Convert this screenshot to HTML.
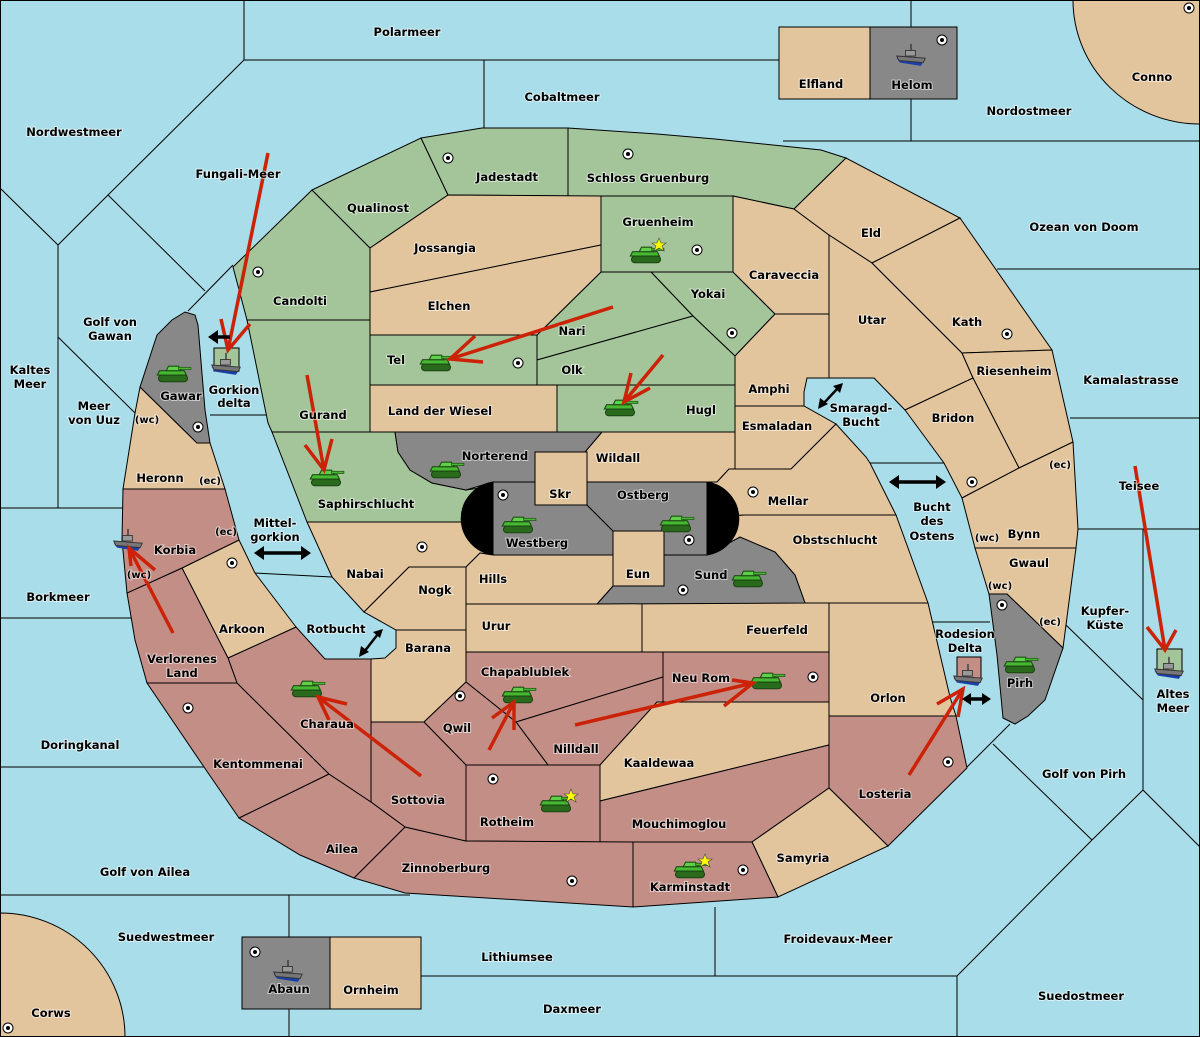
<!DOCTYPE html>
<html><head><meta charset="utf-8"><style>
html,body{margin:0;padding:0;background:#a9dde9}
svg{display:block}
text{font-family:"DejaVu Sans","Liberation Sans",sans-serif;font-weight:bold;font-size:11.5px;fill:#000;stroke:#fff;stroke-width:2;stroke-opacity:.55;paint-order:stroke;text-anchor:middle}
.s{font-size:10px}
.l polygon,.l path,.l rect{stroke:#000;stroke-width:1}
.t{fill:#e2c59d}.g{fill:#a3c599}.p{fill:#c38e86}.y{fill:#888}
.sea line,.sea polyline{stroke:#000;stroke-width:1;fill:none}
.ar{stroke:#cc2208;stroke-width:3.5;fill:none;stroke-linecap:butt}
</style></head><body>
<svg width="1200" height="1037" viewBox="0 0 1200 1037" xmlns="http://www.w3.org/2000/svg">
<defs>
<g id="tk0">
<rect x="-13" y="1" width="26" height="6" rx="3" fill="#2a6a1c" stroke="#163d0e" stroke-width=".8"/>
<path d="M-14,1 L12,1 L10,-3 L-12,-3 Z" fill="#46b832" stroke="#1d4d14" stroke-width="1"/>
<path d="M-6,-3 L-4,-7 L5,-7 L7,-3 Z" fill="#5fd048" stroke="#1d4d14" stroke-width="1"/>
<rect x="5" y="-6" width="11" height="2" fill="#46b832" stroke="#1d4d14" stroke-width=".6"/>
</g>
<g id="tk"><use href="#tk0" transform="scale(1.12)"/></g>
<g id="sh0">
<path d="M-13,2 L12,4 L9,9 L-10,6 Z" fill="#1b3fa8"/>
<path d="M-13,0 L13,2 L11,6 L-11,4 Z" fill="#777" stroke="#333" stroke-width=".8"/>
<rect x="-5" y="-5" width="9" height="5" fill="#999" stroke="#333" stroke-width=".8"/>
<line x1="0" y1="-11" x2="0" y2="-5" stroke="#333" stroke-width="1.2"/>
</g>
<g id="sh"><use href="#sh0" transform="scale(1.1)"/></g>
<g id="sc"><circle r="5" fill="#fff" stroke="#000" stroke-width="1"/><circle r="2" fill="#000"/></g>
<polygon id="st" points="0,-7 2,-2 7,-2 3,1 5,6 0,3 -5,6 -3,1 -7,-2 -2,-2" fill="#ff0" stroke="#444" stroke-width=".6"/>
</defs>
<rect x="0" y="0" width="1200" height="1037" fill="#a9dde9"/>
<g class="sea">
<line x1="244" y1="0" x2="244" y2="60"/><line x1="244" y1="60" x2="779" y2="60"/>
<line x1="484" y1="60" x2="484" y2="128"/>
<line x1="911" y1="0" x2="911" y2="27"/><line x1="911" y1="99" x2="911" y2="141"/>
<line x1="783" y1="141" x2="1200" y2="141"/>
<polyline points="244,60 108,195 205,291"/><polyline points="0,188 58,245 108,195"/>
<line x1="188" y1="311" x2="233" y2="265"/>
<line x1="58" y1="245" x2="58" y2="508"/><line x1="58" y1="337" x2="135" y2="413"/>
<line x1="0" y1="508" x2="123" y2="508"/><line x1="0" y1="618" x2="131" y2="618"/>
<line x1="0" y1="767" x2="204" y2="767"/><line x1="0" y1="895" x2="410" y2="895"/>
<line x1="289" y1="895" x2="289" y2="1037"/>
<line x1="421" y1="976" x2="957" y2="976"/><line x1="715" y1="907" x2="715" y2="976"/>
<line x1="957" y1="976" x2="957" y2="1037"/><line x1="957" y1="976" x2="1092" y2="840"/>
<line x1="993" y1="744" x2="1092" y2="840"/><line x1="967" y1="767" x2="1010" y2="724"/>
<line x1="1092" y1="840" x2="1143" y2="790"/><line x1="1143" y1="529" x2="1143" y2="790"/>
<line x1="1143" y1="790" x2="1200" y2="847"/><line x1="1066" y1="625" x2="1143" y2="700"/>
<line x1="1078" y1="529" x2="1200" y2="529"/><line x1="1070" y1="418" x2="1200" y2="418"/>
<line x1="997" y1="269" x2="1200" y2="269"/>
<line x1="210" y1="415" x2="266" y2="415"/><line x1="253" y1="573" x2="332" y2="577"/>
<line x1="870" y1="463" x2="944" y2="463"/><line x1="932" y1="622" x2="990" y2="622"/>
</g>
<g class="l">
<path class="t" d="M1073,0 A127,124 0 0 0 1200,124 L1200,0 Z"/>
<path class="t" d="M0,913 A125,124 0 0 1 125,1037 L0,1037 Z"/>
<rect class="t" x="779" y="27" width="91" height="72"/><rect class="y" x="870" y="27" width="87" height="72"/>
<rect class="y" x="242" y="937" width="88" height="72"/><rect class="t" x="330" y="937" width="91" height="72"/>
<rect class="g" x="214" y="348" width="25" height="23"/>
<rect class="p" x="957" y="657" width="24" height="21"/>
<rect class="g" x="1157" y="649" width="25" height="22"/>
<!-- green -->
<polygon class="g" points="233,267 312,190 370,248 370,320 247,320"/>
<polygon class="g" points="312,190 421,138 448,195 370,248"/>
<polygon class="g" points="421,138 482,128 568,128 568,196 448,195"/>
<polygon class="g" points="568,128 657,134 715,139 821,150 846,158 794,209 733,196 568,196"/>
<polygon class="g" points="601,196 733,196 733,272 601,272"/>
<polygon class="g" points="651,272 733,272 775,314 735,356 693,316"/>
<polygon class="g" points="537,335 601,272 651,272 693,316 537,360"/>
<polygon class="g" points="537,360 693,316 735,356 735,385 537,385"/>
<polygon class="g" points="370,335 537,335 537,385 370,385"/>
<polygon class="g" points="557,385 735,385 735,432 557,432"/>
<polygon class="g" points="247,320 370,320 370,432 272,432 268,423"/>
<polygon class="g" points="272,432 395,432 398,452 410,470 432,483 466,490 493,486 493,522 456,522 307,522"/>
<!-- tan north -->
<polygon class="t" points="370,248 448,195 601,196 601,245 370,292"/>
<polygon class="t" points="370,292 601,245 601,272 537,335 370,335"/>
<polygon class="t" points="370,385 557,385 557,432 370,432"/>
<polygon class="t" points="733,196 794,209 829,235 829,314 775,314 733,272"/>
<polygon class="t" points="775,314 829,314 829,378 807,378 804,392 804,406 735,406 735,356"/>
<polygon class="t" points="735,406 804,406 836,424 791,469 735,469"/>
<polygon class="t" points="602,432 735,432 735,469 729,469 717,482 585,482 585,452"/>
<rect class="t" x="535" y="452" width="52" height="53"/>
<polygon class="t" points="707,518 707,482 717,482 729,469 791,469 836,424 866,457 870,463 896,515 744,515"/>
<polygon class="t" points="707,518 744,515 896,515 928,603 805,603 795,575 775,552 740,537 707,555"/>
<polygon class="t" points="794,209 846,158 960,218 872,263 829,235"/>
<polygon class="t" points="829,235 872,263 962,353 973,378 905,410 874,378 829,378"/>
<polygon class="t" points="872,263 960,218 1052,350 962,353"/>
<polygon class="t" points="962,353 1052,350 1073,442 1019,468 973,378"/>
<polygon class="t" points="905,410 973,378 1019,468 962,498 944,463"/>
<polygon class="t" points="962,498 1019,468 1073,442 1078,529 1076,548 975,548"/>
<polygon class="t" points="975,548 1076,548 1063,648 1007,594 989,594"/>
<polygon class="y" points="989,594 1007,594 1063,648 1045,700 1028,716 1015,724 1003,718 997,655"/>
<polygon class="t" points="829,603 928,603 950,697 956,716 829,716"/>
<polygon class="t" points="642,603 829,603 829,652 642,652"/>
<polygon class="t" points="466,604 642,603 642,652 466,652"/>
<!-- gray center -->
<polygon class="y" points="395,432 602,432 585,452 535,452 535,482 493,482 466,490 432,483 410,470 398,452"/>
<polygon class="y" points="493,482 535,482 535,505 587,505 613,531 613,555 493,555"/>
<polygon class="y" points="587,482 707,482 707,555 664,555 664,531 613,531 587,505"/>
<polygon class="y" points="664,555 707,555 740,537 775,552 795,575 805,603 597,604 613,586 664,586"/>
<rect class="t" x="613" y="531" width="51" height="55"/>
<polygon class="t" points="307,522 493,522 493,555 480,553 466,567 409,567 364,612 332,577"/>
<path d="M493,482 A38,37 0 0 0 493,555 Z" fill="#000"/>
<path d="M707,482 A38,37 0 0 1 707,555 Z" fill="#000"/>
<polygon class="t" points="466,567 480,553 493,555 613,555 613,586 597,604 466,604"/>
<polygon class="t" points="409,567 466,567 466,630 396,630 364,612"/>
<polygon class="t" points="396,630 466,630 466,682 424,722 371,722 371,659 385,658 396,648"/>
<!-- pink south -->
<polygon class="p" points="466,652 663,652 663,677 516,722 466,682"/>
<polygon class="p" points="663,652 829,652 829,702 663,702"/>
<polygon class="p" points="516,722 663,677 663,702 657,702 600,765 548,765"/>
<polygon class="t" points="657,702 829,702 829,745 600,801 600,765"/>
<polygon class="p" points="466,682 516,722 548,765 466,765 424,722"/>
<polygon class="p" points="466,765 600,765 600,842 466,841"/>
<polygon class="p" points="600,801 829,745 829,788 752,842 600,842"/>
<polygon class="p" points="829,716 956,716 967,768 888,846 829,788"/>
<polygon class="t" points="829,788 888,846 778,897 752,842"/>
<polygon class="p" points="633,842 752,842 778,897 633,907"/>
<polygon class="p" points="405,827 466,841 633,842 633,907 520,900 405,893 354,878"/>
<polygon class="p" points="371,722 424,722 466,765 466,841 405,827 371,802"/>
<polygon class="p" points="239,818 329,774 371,802 405,827 354,878 300,855"/>
<polygon class="p" points="147,683 237,683 329,774 239,818 204,767"/>
<polygon class="p" points="296,627 325,659 371,659 371,802 329,774 237,683 228,658"/>
<polygon class="t" points="239,540 255,573 296,627 228,658 182,568"/>
<polygon class="p" points="127,593 182,568 228,658 237,683 147,683 135,640"/>
<polygon class="p" points="123,489 225,489 239,540 182,568 127,593 122,540"/>
<polygon class="t" points="140,387 197,443 210,443 225,489 123,489 135,413"/>
<polygon class="y" points="140,387 157,335 172,320 185,312 195,315 198,325 205,410 210,443 197,443"/>
</g>
<rect x="0.5" y="0.5" width="1199" height="1036" fill="none" stroke="#000"/>
<!-- supply centers -->
<g>
<use href="#sc" x="448" y="158"/><use href="#sc" x="628" y="154"/><use href="#sc" x="697" y="250"/>
<use href="#sc" x="258" y="272"/><use href="#sc" x="518" y="363"/><use href="#sc" x="732" y="333"/>
<use href="#sc" x="1007" y="334"/><use href="#sc" x="198" y="427"/><use href="#sc" x="232" y="563"/>
<use href="#sc" x="422" y="547"/><use href="#sc" x="503" y="495"/><use href="#sc" x="689" y="540"/>
<use href="#sc" x="753" y="492"/><use href="#sc" x="683" y="590"/><use href="#sc" x="972" y="482"/>
<use href="#sc" x="1002" y="605"/><use href="#sc" x="460" y="696"/><use href="#sc" x="493" y="779"/>
<use href="#sc" x="813" y="677"/><use href="#sc" x="948" y="762"/><use href="#sc" x="188" y="708"/>
<use href="#sc" x="572" y="881"/><use href="#sc" x="743" y="870"/><use href="#sc" x="942" y="40"/>
<use href="#sc" x="255" y="952"/><use href="#sc" x="1189" y="8"/><use href="#sc" x="8" y="1028"/>
</g>
<!-- tanks -->
<g>
<use href="#tk" x="646" y="255"/><use href="#tk" x="436" y="363"/><use href="#tk" x="620" y="408"/>
<use href="#tk" x="326" y="478"/><use href="#tk" x="446" y="470"/><use href="#tk" x="518" y="525"/>
<use href="#tk" x="676" y="524"/><use href="#tk" x="748" y="579"/><use href="#tk" x="173" y="374"/>
<use href="#tk" x="518" y="695"/><use href="#tk" x="767" y="681"/><use href="#tk" x="556" y="804"/>
<use href="#tk" x="307" y="689"/><use href="#tk" x="690" y="870"/><use href="#tk" x="1020" y="665"/>
</g>
<use href="#st" x="659" y="245"/><use href="#st" x="571" y="796"/><use href="#st" x="705" y="861"/>
<!-- ships -->
<use href="#sh" x="911" y="56"/><use href="#sh" x="226" y="365"/><use href="#sh" x="128" y="541"/>
<use href="#sh" x="968" y="676"/><use href="#sh" x="1169" y="669"/><use href="#sh" x="288" y="972"/>
<!-- red arrows -->
<g class="ar">
<path d="M268,153 L228,350 M221,319 L228,350 L250,324"/>
<path d="M613,307 L450,359 M475,336 L450,359 L483,362"/>
<path d="M663,355 L624,402 M631,373 L624,402 L650,388"/>
<path d="M307,375 L324,470 M305,445 L324,470 L332,439"/>
<path d="M173,633 L129,548 M131,566 L129,548 L155,570"/>
<path d="M421,776 L318,697 M347,704 L318,697 L329,720"/>
<path d="M489,750 L514,702 M492,718 L514,702 L514,730"/>
<path d="M575,725 L753,683 M732,680 L753,683 L724,706"/>
<path d="M909,775 L963,689 M937,704 L963,689 L958,717"/>
<path d="M1135,466 L1165,650 M1147,627 L1165,650 L1176,630"/>
</g>
<!-- black arrows -->
<g stroke="#000" stroke-width="3.5" fill="#000">
<line x1="260" y1="553" x2="305" y2="553"/><polygon points="254,553 264,546 264,560" stroke-width="0"/><polygon points="311,553 301,546 301,560" stroke-width="0"/>
<line x1="895" y1="482" x2="940" y2="482"/><polygon points="889,482 899,475 899,489" stroke-width="0"/><polygon points="946,482 936,475 936,489" stroke-width="0"/>
<line x1="968" y1="699" x2="985" y2="699"/><polygon points="962,699 971,693 971,705" stroke-width="0"/><polygon points="991,699 982,693 982,705" stroke-width="0"/>
<line x1="216" y1="337" x2="230" y2="337"/><polygon points="208,337 218,330 218,344" stroke-width="0"/>
<line x1="364" y1="652" x2="378" y2="634" stroke-width="2.5"/><polygon points="359,657 361,646 369,652" stroke-width="0"/><polygon points="383,629 373,632 380,638" stroke-width="0"/>
<line x1="823" y1="404" x2="838" y2="388" stroke-width="2.5"/><polygon points="818,409 820,398 828,404" stroke-width="0"/><polygon points="843,383 833,386 840,393" stroke-width="0"/>
</g>
<!-- labels -->
<g>
<text x="407" y="36">Polarmeer</text><text x="562" y="101">Cobaltmeer</text>
<text x="821" y="88">Elfland</text><text x="912" y="89">Helom</text>
<text x="1152" y="81">Conno</text><text x="1029" y="115">Nordostmeer</text>
<text x="74" y="136">Nordwestmeer</text><text x="238" y="178">Fungali-Meer</text>
<text x="507" y="181">Jadestadt</text><text x="648" y="182">Schloss Gruenburg</text>
<text x="378" y="212">Qualinost</text><text x="658" y="226">Gruenheim</text>
<text x="445" y="252">Jossangia</text><text x="871" y="237">Eld</text>
<text x="1084" y="231">Ozean von Doom</text><text x="784" y="279">Caraveccia</text>
<text x="300" y="305">Candolti</text><text x="449" y="310">Elchen</text>
<text x="708" y="298">Yokai</text><text x="872" y="324">Utar</text><text x="967" y="326">Kath</text>
<text x="572" y="335">Nari</text><text x="110" y="326">Golf von</text><text x="110" y="340">Gawan</text>
<text x="396" y="364">Tel</text><text x="572" y="374">Olk</text>
<text x="30" y="374">Kaltes</text><text x="30" y="388">Meer</text>
<text x="1014" y="375">Riesenheim</text><text x="1131" y="384">Kamalastrasse</text>
<text x="769" y="393">Amphi</text><text x="181" y="400">Gawar</text>
<text x="234" y="394">Gorkion</text><text x="234" y="407">delta</text>
<text x="861" y="412">Smaragd-</text><text x="861" y="426">Bucht</text>
<text x="94" y="410">Meer</text><text x="94" y="424">von Uuz</text>
<text class="s" x="147" y="423">(wc)</text>
<text x="323" y="419">Gurand</text><text x="440" y="415">Land der Wiesel</text>
<text x="701" y="414">Hugl</text><text x="953" y="422">Bridon</text><text x="777" y="430">Esmaladan</text>
<text x="160" y="482">Heronn</text><text class="s" x="210" y="484">(ec)</text>
<text x="495" y="460">Norterend</text><text x="618" y="462">Wildall</text>
<text class="s" x="1060" y="468">(ec)</text><text x="1139" y="490">Teisee</text>
<text x="560" y="498">Skr</text><text x="643" y="499">Ostberg</text><text x="788" y="505">Mellar</text>
<text x="366" y="508">Saphirschlucht</text>
<text x="932" y="511">Bucht</text><text x="932" y="525">des</text><text x="932" y="540">Ostens</text>
<text class="s" x="226" y="535">(ec)</text>
<text x="275" y="527">Mittel-</text><text x="275" y="541">gorkion</text>
<text x="1024" y="538">Bynn</text><text class="s" x="987" y="541">(wc)</text>
<text x="835" y="544">Obstschlucht</text><text x="537" y="547">Westberg</text>
<text x="175" y="554">Korbia</text><text class="s" x="139" y="578">(wc)</text>
<text x="1029" y="567">Gwaul</text><text x="638" y="578">Eun</text><text x="711" y="579">Sund</text>
<text x="365" y="578">Nabai</text><text x="493" y="583">Hills</text>
<text class="s" x="1000" y="589">(wc)</text><text x="435" y="594">Nogk</text>
<text x="58" y="601">Borkmeer</text>
<text x="1105" y="615">Kupfer-</text><text x="1105" y="629">Küste</text>
<text class="s" x="1050" y="625">(ec)</text>
<text x="496" y="630">Urur</text><text x="777" y="634">Feuerfeld</text>
<text x="242" y="633">Arkoon</text><text x="336" y="633">Rotbucht</text>
<text x="965" y="638">Rodesion</text><text x="965" y="652">Delta</text>
<text x="428" y="652">Barana</text>
<text x="182" y="663">Verlorenes</text><text x="182" y="677">Land</text>
<text x="525" y="676">Chapablublek</text><text x="701" y="682">Neu Rom</text>
<text x="1020" y="687">Pirh</text>
<text x="1173" y="698">Altes</text><text x="1173" y="712">Meer</text>
<text x="888" y="702">Orlon</text><text x="327" y="728">Charaua</text><text x="457" y="732">Qwil</text>
<text x="80" y="749">Doringkanal</text><text x="576" y="753">Nilldall</text>
<text x="659" y="767">Kaaldewaa</text><text x="258" y="768">Kentommenai</text>
<text x="1084" y="778">Golf von Pirh</text><text x="885" y="798">Losteria</text>
<text x="418" y="804">Sottovia</text><text x="507" y="826">Rotheim</text>
<text x="679" y="828">Mouchimoglou</text><text x="342" y="853">Ailea</text>
<text x="803" y="862">Samyria</text><text x="446" y="872">Zinnoberburg</text>
<text x="145" y="876">Golf von Ailea</text><text x="690" y="891">Karminstadt</text>
<text x="166" y="941">Suedwestmeer</text><text x="838" y="943">Froidevaux-Meer</text>
<text x="517" y="961">Lithiumsee</text><text x="289" y="993">Abaun</text>
<text x="371" y="994">Ornheim</text><text x="1081" y="1000">Suedostmeer</text>
<text x="572" y="1013">Daxmeer</text><text x="51" y="1017">Corws</text>
</g>
</svg>
</body></html>
